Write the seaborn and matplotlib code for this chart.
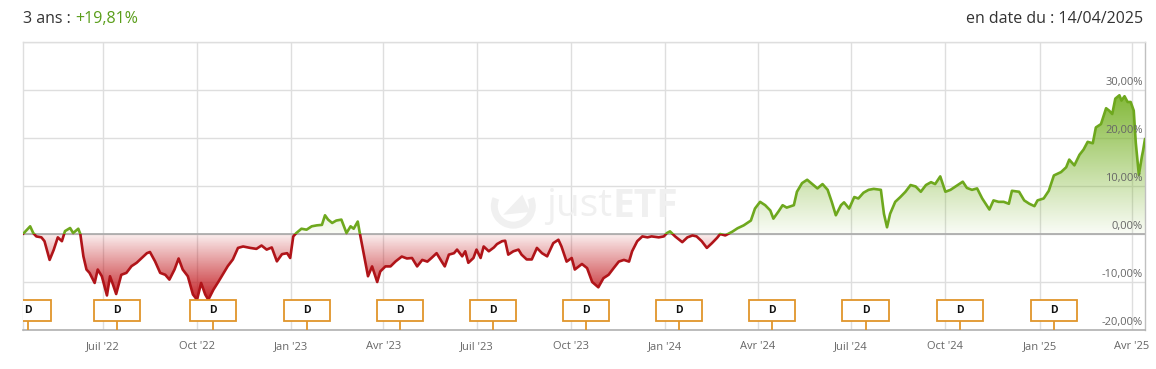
import numpy as np
import pandas as pd
import matplotlib
matplotlib.use("Agg")
import matplotlib.pyplot as plt
import matplotlib.dates as mdates
import matplotlib.transforms as mtransforms
from matplotlib.patches import Rectangle, Arc, Polygon
import seaborn as sns

# ---------------- data ----------------
start_date = "2022-04-14"
end_date = "2025-04-14"
day_offsets = [
    0, 7, 10, 13, 18, 21, 26, 30, 34, 38, 41, 46, 49, 54, 56, 59, 62, 65, 70, 73,
    77, 82, 85, 88, 91, 96, 101, 106, 111, 116, 121, 124, 129, 134, 139, 143, 148, 152, 156, 161,
    166, 170, 174, 178, 181, 186, 191, 196, 200, 205, 210, 215, 222, 228, 233, 238, 243, 248, 253, 258,
    261, 264, 267, 272, 277, 282, 287, 292, 295, 298, 302, 306, 311, 316, 320, 323, 327, 329, 333, 337,
    341, 346, 349, 354, 359, 364, 370, 375, 380, 385, 390, 395, 399, 404, 409, 412, 416, 421, 424, 429,
    432, 435, 440, 443, 447, 450, 455, 460, 463, 468, 471, 474, 479, 484, 487, 492, 497, 502, 507, 512,
    515, 518, 523, 526, 531, 536, 539, 543, 546, 551, 556, 562, 567, 572, 577, 582, 587, 592, 595, 600,
    605, 610, 614, 621, 626, 629, 632, 637, 644, 649, 654, 658, 663, 668, 673, 678, 681, 686, 693, 698,
    704, 711, 715, 720, 725, 730, 733, 738, 742, 746, 753, 756, 761, 766, 771, 776, 781, 786, 790, 794,
    799, 802, 807, 812, 816, 821, 826, 831, 838, 841, 844, 847, 852, 857, 862, 867, 872, 877, 882, 887,
    891, 896, 901, 906, 911, 918, 922, 927, 932, 937, 944, 948, 953, 958, 963, 966, 973, 978, 983, 988,
    991, 997, 1002, 1007, 1014, 1019, 1022, 1027, 1032, 1036, 1040, 1045, 1048, 1053, 1058, 1061, 1064, 1067, 1071, 1073,
    1076, 1079, 1082, 1085, 1087, 1090, 1093, 1094, 1096,
]
perf_values = [
    0.0, 1.6, 0.2, -0.5, -0.7, -1.5, -5.4, -3.3, -0.7, -1.5, 0.6, 1.25, 0.2, 1.1, 0.0, -4.65, -7.4, -8.1, -10.2, -7.4,
    -8.8, -12.8, -8.8, -10.6, -12.5, -8.5, -8.1, -6.7, -6.0, -5.0, -4.0, -3.75, -5.7, -8.1, -8.5, -9.5, -7.4, -5.1, -7.4, -8.8,
    -12.6, -13.7, -10.2, -12.6, -13.7, -11.6, -9.9, -8.1, -6.7, -5.3, -2.9, -2.6, -2.9, -3.1, -2.4, -3.25, -2.8, -5.7, -4.2, -4.0,
    -5.0, -0.5, 0.2, 1.1, 0.9, 1.6, 1.8, 1.9, 3.9, 3.0, 2.3, 2.8, 3.0, 0.2, 1.6, 1.1, 2.6, 0.2, -4.3, -8.8,
    -6.75, -10.0, -7.8, -6.75, -6.75, -5.7, -4.7, -5.1, -5.0, -6.75, -5.4, -5.75, -5.0, -4.0, -5.75, -6.75, -4.3, -4.0, -3.25, -4.65,
    -3.6, -6.0, -5.0, -3.25, -5.0, -2.6, -3.6, -2.8, -2.1, -1.5, -1.4, -4.3, -3.6, -3.25, -4.3, -5.3, -5.3, -2.9, -4.0, -4.65,
    -3.25, -1.9, -1.2, -2.6, -5.75, -5.0, -7.4, -6.75, -6.25, -7.1, -10.0, -11.1, -9.2, -8.5, -7.1, -5.75, -5.4, -5.75, -3.6, -1.5,
    -0.5, -0.7, -0.5, -0.7, -0.5, 0.2, 0.55, -0.5, -1.7, -0.7, -0.3, -0.5, -1.5, -2.9, -1.9, -0.8, 0.0, -0.3, 0.5, 1.2,
    1.8, 2.8, 5.3, 6.7, 6.0, 4.9, 3.2, 4.7, 6.0, 5.5, 6.0, 8.8, 10.6, 11.3, 10.4, 9.5, 10.4, 9.2, 6.7, 3.9,
    6.0, 6.6, 5.3, 7.7, 7.4, 8.6, 9.2, 9.4, 9.2, 4.2, 1.4, 4.2, 6.7, 7.7, 8.8, 10.2, 9.9, 8.8, 10.2, 10.8,
    10.4, 12.0, 8.8, 9.2, 9.9, 10.9, 9.6, 9.2, 9.5, 7.4, 5.1, 7.0, 6.7, 6.7, 6.3, 9.0, 8.8, 7.0, 6.3, 5.8,
    7.0, 7.4, 9.0, 12.2, 12.9, 13.9, 15.5, 14.3, 16.5, 17.6, 19.2, 18.9, 22.2, 22.9, 26.2, 25.7, 25.0, 28.2, 28.9, 27.8,
    28.7, 27.5, 27.5, 25.7, 19.0, 12.3, 16.2, 17.25, 19.81,
]
tick_dates = ["2022-07-01", "2022-10-01", "2023-01-01", "2023-04-01", "2023-07-01", "2023-10-01",
              "2024-01-01", "2024-04-01", "2024-07-01", "2024-10-01", "2025-01-01", "2025-04-01"]
tick_labels = ["Juil '22", "Oct '22", "Jan '23", "Avr '23", "Juil '23", "Oct '23",
               "Jan '24", "Avr '24", "Juil '24", "Oct '24", "Jan '25", "Avr '25"]
y_ticks = [-20, -10, 0, 10, 20, 30]
y_tick_labels = ["-20,00%", "-10,00%", "0,00%", "10,00%", "20,00%", "30,00%"]
dividend_dates = ["2022-04-19", "2022-07-15", "2022-10-17", "2023-01-16", "2023-04-17", "2023-07-17",
                  "2023-10-16", "2024-01-15", "2024-04-15", "2024-07-15", "2024-10-15", "2025-01-15"]
title_left = "3 ans : "
title_perf = "+19,81%"
title_right = "en date du : 14/04/2025"

# ---------------- style ----------------
sns.set_style("white")
plt.rcParams["font.family"] = ["Open Sans", "DejaVu Sans"]

GREEN = "#6ea81e"
RED = "#b01419"
GRID = "#dedede"
LABEL = "#666666"
WM = "#f0f0f0"

dates = pd.to_datetime(start_date) + pd.to_timedelta(day_offsets, unit="D")
df = pd.DataFrame({"date": dates, "perf": perf_values})
xnum = mdates.date2num(df["date"])
yv = np.array(perf_values, dtype=float)

W, H = 1156, 369
fig = plt.figure(figsize=(W / 100, H / 100), dpi=100)
ax = fig.add_axes([23 / W, 1 - 330 / H, (1145 - 23) / W, 288 / H])

x0 = mdates.date2num(pd.Timestamp(start_date))
x1 = mdates.date2num(pd.Timestamp(end_date))
ymin, ymax = -20, 40

# grid
for t in tick_dates:
    ax.axvline(mdates.date2num(pd.Timestamp(t)), color=GRID, lw=1, zorder=0)
for v in range(-20, 41, 10):
    ax.axhline(v, color=GRID, lw=1, zorder=0)

# watermark (behind data)
ax.text(0.525, 0.43, "just", transform=ax.transAxes, fontsize=28, color=WM,
        ha="right", va="center", zorder=0.5)
ax.text(0.525, 0.43, "ETF", transform=ax.transAxes, fontsize=28, color=WM,
        fontweight="bold", ha="left", va="center", zorder=0.5)
ax.add_patch(Arc((0.437, 0.43), 38 / 1122, 38 / 288, theta1=120, theta2=420,
                 transform=ax.transAxes, color=WM, lw=5, zorder=0.5))
ax.add_patch(Polygon([(0.428, 0.40), (0.445, 0.47), (0.452, 0.41)], closed=True,
                     transform=ax.transAxes, facecolor=WM, edgecolor="none", zorder=0.5))

# gradient fills
def gradient_fill(lo, hi, rgb, a_lo, a_hi, ypos):
    n = 256
    alphas = np.linspace(a_lo, a_hi, n)
    img = np.zeros((n, 1, 4))
    img[:, 0, 0] = rgb[0]
    img[:, 0, 1] = rgb[1]
    img[:, 0, 2] = rgb[2]
    img[:, 0, 3] = alphas
    poly = ax.fill_between(xnum, 0, ypos, color="none", lw=0)
    im = ax.imshow(img, extent=[x0, x1, lo, hi], aspect="auto", origin="lower", zorder=1,
                   interpolation="bilinear")
    im.set_clip_path(poly.get_paths()[0], ax.transData)

gradient_fill(0, 29, (0.47, 0.70, 0.15), 0.04, 0.92, np.maximum(yv, 0))
gradient_fill(-14, 0, (0.76, 0.08, 0.10), 0.95, 0.06, np.minimum(yv, 0))

# lines (green above zero, red below)
blend_ad = mtransforms.blended_transform_factory(ax.transAxes, ax.transData)
sns.lineplot(data=df, x="date", y="perf", ax=ax, color=GREEN, lw=1.9, zorder=3)
sns.lineplot(data=df, x="date", y="perf", ax=ax, color=RED, lw=1.9, zorder=3)
lines = ax.get_lines()
gl, rl = lines[-2], lines[-1]
gl.set_clip_path(Rectangle((0, 0), 1, 100, transform=blend_ad))
rl.set_clip_path(Rectangle((0, -100), 1, 100, transform=blend_ad))

# zero line
ax.axhline(0, color="#a8a8a8", lw=1.2, zorder=2)

# dividend markers
blend_da = mtransforms.blended_transform_factory(ax.transData, ax.transAxes)
for d in dividend_dates:
    xd = mdates.date2num(pd.Timestamp(d))
    ax.plot([xd, xd], [0, 0.031], transform=blend_da, color="#e0952b", lw=1.3, zorder=5)
    ax.add_patch(Rectangle((xd - 22.5, 0.031), 45, 0.073, transform=blend_da,
                           facecolor="white", edgecolor="#e0952b", lw=1.3, zorder=6))
    ax.text(xd, 0.0675, "D", transform=blend_da, ha="center", va="center",
            fontsize=7.5, fontweight="bold", color="#111111", zorder=7, clip_on=True)

# axes
ax.set_xlim(x0, x1)
ax.set_ylim(ymin, ymax)
ax.set_xticks([mdates.date2num(pd.Timestamp(t)) for t in tick_dates])
ax.set_xticklabels(tick_labels)
ax.tick_params(axis="x", length=0, pad=8, labelsize=8, labelcolor=LABEL)
ax.set_yticks([])
ax.set_xlabel("")
ax.set_ylabel("")
for s in ["top", "left"]:
    ax.spines[s].set_color(GRID)
    ax.spines[s].set_linewidth(1)
ax.spines["right"].set_color("#c0c0c0")
ax.spines["bottom"].set_color("#b0b0b0")
ax.spines["right"].set_linewidth(1)
ax.spines["bottom"].set_linewidth(1.2)

ylab_tr = mtransforms.offset_copy(blend_ad, fig=fig, x=-2, y=2, units="dots")
for v, lab in zip(y_ticks, y_tick_labels):
    ax.text(1, v, lab, transform=ylab_tr, ha="right", va="bottom", fontsize=8, color=LABEL, zorder=8)

# header
t1 = fig.text(23 / W, 1 - 23 / H, title_left, fontsize=11.5, color="#333333", va="baseline", ha="left")
fig.canvas.draw()
bb = t1.get_window_extent()
fig.text(bb.x1 / W, 1 - 23 / H, title_perf, fontsize=11.5, color="#5a9e1a", va="baseline", ha="left")
fig.text(1143 / W, 1 - 23 / H, title_right, fontsize=11.5, color="#333333", va="baseline", ha="right")

fig.savefig("out.png", dpi=100, facecolor="white")
